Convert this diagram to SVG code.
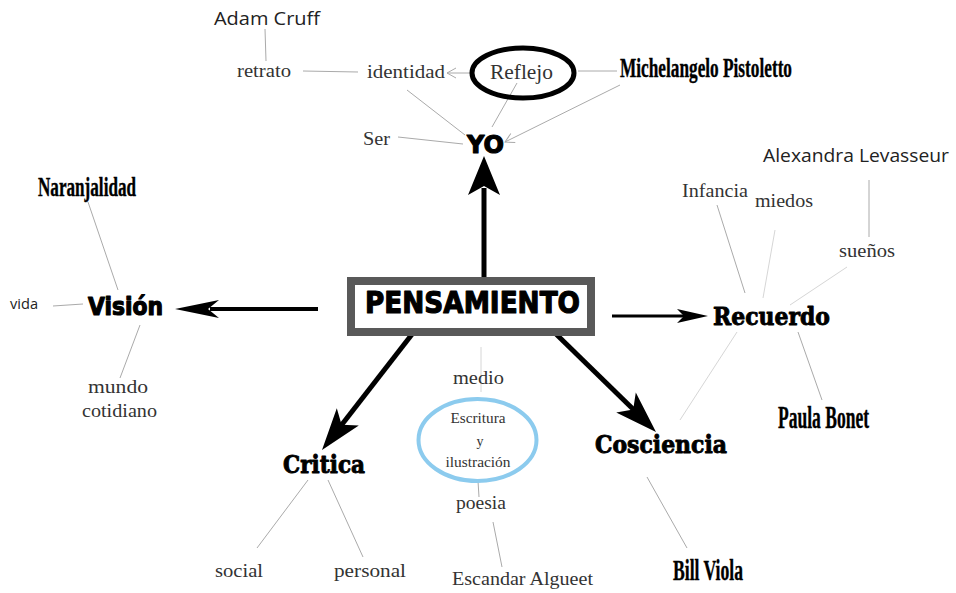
<svg xmlns="http://www.w3.org/2000/svg" width="956" height="593" viewBox="0 0 956 593">
<defs>
<style>
.thin{stroke:#aaaaaa;stroke-width:1;fill:none}
.faint{stroke:#d6d6d6;stroke-width:1;fill:none}
.shaft{stroke:#000;fill:none;stroke-linecap:butt}
.head{fill:#000;stroke:none}
.serif{font-family:"Liberation Serif","DejaVu Serif",serif;fill:#333}
.sans{font-family:"Open Sans","Noto Sans","DejaVu Sans",sans-serif;fill:#222}
.heavy{font-family:"DejaVu Sans","Liberation Sans",sans-serif;font-weight:bold;fill:#000;stroke:#000;stroke-width:1.2;stroke-linejoin:round}
.heavyserif{font-family:"DejaVu Serif","Liberation Serif",serif;font-weight:bold;fill:#000;stroke:#000;stroke-width:0.9;stroke-linejoin:round}
.cond{font-family:"Liberation Serif","DejaVu Serif",serif;font-weight:bold;fill:#000;stroke:#000;stroke-width:0.4}
</style>
<marker id="open" markerUnits="userSpaceOnUse" markerWidth="20" markerHeight="20" refX="0" refY="0" orient="auto" overflow="visible">
<path d="M-9,-5 L0,0 L-9,5" fill="none" stroke="#aaaaaa" stroke-width="1"/>
</marker>
</defs>
<rect width="956" height="593" fill="#fff"/>

<g id="connectors">
<line class="shaft" x1="484" y1="279" x2="484" y2="188" stroke-width="5"/>
<path class="head" d="M484,156 L500,195 L484,186 L468,195 Z"/>
<line class="shaft" x1="318" y1="309" x2="210" y2="309" stroke-width="4"/>
<path class="head" d="M175,309 L219,300 L208,309 L219,318 Z"/>
<line class="shaft" x1="612" y1="316" x2="686" y2="316" stroke-width="3"/>
<path class="head" d="M708,316 L677,309 L684,316 L677,323 Z"/>
<line class="shaft" x1="413" y1="333" x2="340" y2="427" stroke-width="5"/>
<path class="head" d="M322,450 L336.8,408.3 L341.6,424.8 L358.8,425.5 Z"/>
<line class="shaft" x1="555" y1="333" x2="635" y2="411" stroke-width="5"/>
<path class="head" d="M656,432 L616.2,412.6 L633.2,409.6 L635.8,392.6 Z"/>
<line class="thin" x1="265" y1="29" x2="266" y2="61"/>
<line class="thin" x1="303" y1="71" x2="358" y2="72"/>
<line class="thin" x1="470" y1="73" x2="447" y2="73" marker-end="url(#open)"/>
<line class="thin" x1="578" y1="71" x2="617" y2="71"/>
<line class="thin" x1="407" y1="90" x2="465" y2="135"/>
<line class="thin" x1="517" y1="83" x2="492" y2="127"/>
<line class="thin" x1="398" y1="137" x2="463" y2="144"/>
<line class="thin" x1="620" y1="85" x2="505" y2="142" marker-end="url(#open)"/>
<line class="thin" x1="88" y1="202" x2="118" y2="290"/>
<line class="thin" x1="53" y1="306" x2="83" y2="304"/>
<line class="thin" x1="140" y1="325" x2="120" y2="378"/>
<line class="thin" x1="717" y1="205" x2="745" y2="293"/>
<line class="faint" x1="775" y1="230" x2="763" y2="298"/>
<line class="faint" x1="847" y1="267" x2="790" y2="305"/>
<line class="thin" x1="869" y1="180" x2="869" y2="237"/>
<line class="thin" x1="798" y1="332" x2="822" y2="400"/>
<line class="faint" x1="737" y1="332" x2="680" y2="420"/>
<line class="thin" x1="647" y1="477" x2="687" y2="548"/>
<line class="thin" x1="308" y1="480" x2="257" y2="548"/>
<line class="thin" x1="328" y1="480" x2="363" y2="557"/>
<line class="faint" x1="481" y1="347" x2="481" y2="392"/>
<line class="thin" x1="478" y1="481" x2="479" y2="497"/>
<line class="thin" x1="493" y1="522" x2="502" y2="567"/>
</g>

<g id="pensamiento">
<rect x="351" y="281" width="240" height="51" fill="#fff" stroke="#595959" stroke-width="8"/>
<text class="heavy" x="365" y="313" font-size="30" textLength="215" lengthAdjust="spacingAndGlyphs">PENSAMIENTO</text>
</g>
<g id="yo"><text class="heavy" x="467" y="153" font-size="24" textLength="37" lengthAdjust="spacingAndGlyphs">YO</text></g>
<g id="reflejo">
<ellipse cx="523" cy="73" rx="51" ry="25" fill="none" stroke="#000" stroke-width="5"/>
<text class="serif" x="490" y="79" font-size="21" textLength="63" lengthAdjust="spacingAndGlyphs">Reflejo</text>
</g>
<g id="identidad"><text class="serif" x="367" y="78" font-size="18.5" textLength="78" lengthAdjust="spacingAndGlyphs">identidad</text></g>
<g id="retrato"><text class="serif" x="237" y="77" font-size="18.5" textLength="54" lengthAdjust="spacingAndGlyphs">retrato</text></g>
<g id="adam"><text class="sans" x="214" y="25" font-size="19" textLength="106" lengthAdjust="spacingAndGlyphs">Adam Cruff</text></g>
<g id="ser"><text class="serif" x="363" y="145" font-size="18.5" textLength="27" lengthAdjust="spacingAndGlyphs">Ser</text></g>
<g id="michelangelo"><text class="cond" x="620" y="77" font-size="28" textLength="172" lengthAdjust="spacingAndGlyphs">Michelangelo Pistoletto</text></g>

<g id="vision"><text class="heavy" x="88" y="315" font-size="24" textLength="75" lengthAdjust="spacingAndGlyphs">Visión</text></g>
<g id="naranjalidad"><text class="cond" x="38" y="196" font-size="27" textLength="98" lengthAdjust="spacingAndGlyphs">Naranjalidad</text></g>
<g id="vida"><text class="sans" x="10" y="309" font-size="15" textLength="28" lengthAdjust="spacingAndGlyphs">vida</text></g>
<g id="mundo">
<text class="serif" x="88" y="393" font-size="18.5" textLength="60" lengthAdjust="spacingAndGlyphs">mundo</text>
<text class="serif" x="82" y="417" font-size="18.5" textLength="75" lengthAdjust="spacingAndGlyphs">cotidiano</text>
</g>

<g id="recuerdo"><text class="heavyserif" x="713" y="325" font-size="24" textLength="117" lengthAdjust="spacingAndGlyphs">Recuerdo</text></g>
<g id="infancia"><text class="serif" x="682" y="197" font-size="18.5" textLength="66" lengthAdjust="spacingAndGlyphs">Infancia</text></g>
<g id="miedos"><text class="serif" x="755" y="207" font-size="18.5" textLength="58" lengthAdjust="spacingAndGlyphs">miedos</text></g>
<g id="suenos"><text class="serif" x="839" y="257" font-size="18.5" textLength="56" lengthAdjust="spacingAndGlyphs">sueños</text></g>
<g id="alexandra"><text class="sans" x="763" y="162" font-size="19" textLength="186" lengthAdjust="spacingAndGlyphs">Alexandra Levasseur</text></g>
<g id="paula"><text class="cond" x="778" y="428" font-size="31" textLength="91" lengthAdjust="spacingAndGlyphs">Paula Bonet</text></g>

<g id="cosciencia"><text class="heavyserif" x="595" y="453" font-size="24" textLength="132" lengthAdjust="spacingAndGlyphs">Cosciencia</text></g>
<g id="bill"><text class="cond" x="673" y="580" font-size="29" textLength="70" lengthAdjust="spacingAndGlyphs">Bill Viola</text></g>

<g id="critica"><text class="heavyserif" x="283" y="473" font-size="24" textLength="82" lengthAdjust="spacingAndGlyphs">Critica</text></g>
<g id="social"><text class="serif" x="215" y="577" font-size="18.5" textLength="48" lengthAdjust="spacingAndGlyphs">social</text></g>
<g id="personal"><text class="serif" x="334" y="577" font-size="18.5" textLength="72" lengthAdjust="spacingAndGlyphs">personal</text></g>

<g id="medio"><text class="serif" x="453" y="384" font-size="18.5" textLength="51" lengthAdjust="spacingAndGlyphs">medio</text></g>
<g id="escritura">
<ellipse cx="477.5" cy="440" rx="59" ry="41" fill="none" stroke="#8ccbee" stroke-width="4"/>
<text class="serif" x="478" y="423" font-size="14" text-anchor="middle" textLength="55" lengthAdjust="spacingAndGlyphs">Escritura</text>
<text class="serif" x="480" y="446" font-size="14" text-anchor="middle">y</text>
<text class="serif" x="478" y="467" font-size="14" text-anchor="middle" textLength="65" lengthAdjust="spacingAndGlyphs">ilustración</text>
</g>
<g id="poesia"><text class="serif" x="456" y="509" font-size="18.5" textLength="50" lengthAdjust="spacingAndGlyphs">poesia</text></g>
<g id="escandar"><text class="serif" x="452" y="585" font-size="18.5" textLength="141" lengthAdjust="spacingAndGlyphs">Escandar Algueet</text></g>
</svg>
